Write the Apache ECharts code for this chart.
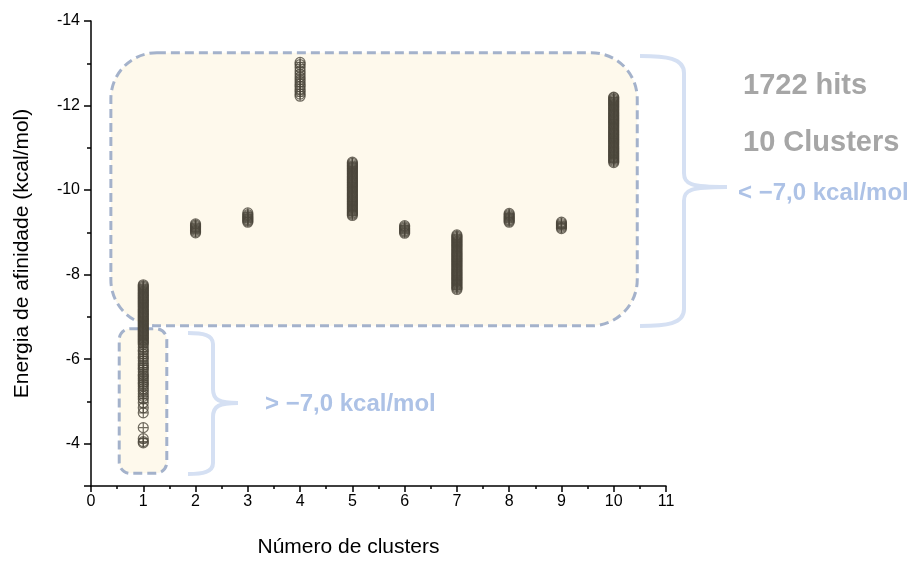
<!DOCTYPE html>
<html><head><meta charset="utf-8">
<script src="https://cdn.jsdelivr.net/npm/echarts@6/dist/echarts.min.js"></script>
<style>html,body{margin:0;padding:0;background:#fff}#c{width:911px;height:563px}</style>
</head><body><div id="c"></div>
<script>
// x-axis tick labels
const xTickLabels = ['0','1','2','3','4','5','6','7','8','9','10','11'];
// y-axis tick labels
const yTickLabels = ['-14','-12','-10','-8','-6','-4'];

// Energies (kcal/mol) read per cluster
const cluster1 = [-7.76,-7.73,-7.70,-7.67,-7.64,-7.61,-7.58,-7.55,-7.52,-7.49,-7.46,-7.43,-7.40,-7.37,-7.34,-7.31,-7.28,-7.25,-7.22,-7.19,-7.16,-7.13,-7.10,-7.07,-7.04,-7.01,-6.98,-6.95,-6.92,-6.89,-6.86,-6.83,-6.80,-6.77,-6.74,-6.71,-6.68,-6.65,-6.62,-6.59,-6.56,-6.53,-6.50,-6.47,-6.44,-6.41,-6.38,-6.35,
  -6.28,-6.22,-6.18,-6.12,-6.06,-6.02,-5.96,-5.90,-5.85,-5.80,-5.76,-5.70,-5.64,-5.60,-5.55,-5.50,-5.45,-5.41,-5.36,-5.30,-5.25,-5.18,-5.12,-5.06,-4.97,-4.85,-4.73,-4.38,-4.12,-4.05,-4.02];
const cluster2 = [-8.99,-9.02,-9.05,-9.08,-9.11,-9.14,-9.17,-9.20];
const cluster3 = [-9.24,-9.27,-9.30,-9.33,-9.36,-9.39,-9.42,-9.46];
const cluster4 = [-12.22,-12.27,-12.33,-12.38,-12.45,-12.5,-12.56,-12.62,-12.68,-12.75,-12.82,-12.9,-12.97,-13.02];
const cluster5 = [-9.40,-9.43,-9.46,-9.49,-9.52,-9.55,-9.58,-9.61,-9.64,-9.67,-9.70,-9.73,-9.76,-9.79,-9.82,-9.85,-9.88,-9.91,-9.94,-9.97,-10.00,-10.03,-10.06,-10.09,-10.12,-10.15,-10.18,-10.21,-10.24,-10.27,-10.30,-10.33,-10.36,-10.39,-10.42,-10.45,-10.48,-10.51,-10.54,-10.57,-10.60,-10.63,-10.66];
const cluster6 = [-8.98,-9.01,-9.04,-9.07,-9.10,-9.13,-9.16];
const cluster7 = [-7.65,-7.68,-7.71,-7.74,-7.77,-7.80,-7.83,-7.86,-7.89,-7.92,-7.95,-7.98,-8.01,-8.04,-8.07,-8.10,-8.13,-8.16,-8.19,-8.22,-8.25,-8.28,-8.31,-8.34,-8.37,-8.40,-8.43,-8.46,-8.49,-8.52,-8.55,-8.58,-8.61,-8.64,-8.67,-8.70,-8.73,-8.76,-8.79,-8.82,-8.85,-8.88,-8.91,-8.94];
const cluster8 = [-9.24,-9.27,-9.30,-9.33,-9.36,-9.39,-9.42,-9.45];
const cluster9 = [-9.09,-9.12,-9.15,-9.18,-9.21,-9.24];
const cluster10 = [-10.65,-10.68,-10.71,-10.74,-10.77,-10.80,-10.83,-10.86,-10.89,-10.92,-10.95,-10.98,-11.01,-11.04,-11.07,-11.10,-11.13,-11.16,-11.19,-11.22,-11.25,-11.28,-11.31,-11.34,-11.37,-11.40,-11.43,-11.46,-11.49,-11.52,-11.55,-11.58,-11.61,-11.64,-11.67,-11.70,-11.73,-11.76,-11.79,-11.82,-11.85,-11.88,-11.91,-11.94,-11.97,-12.00,-12.03,-12.06,-12.09,-12.12,-12.15,-12.18,-12.20];

const clusterIds = [1,2,3,4,5,6,7,8,9,10];
const clusters = [cluster1,cluster2,cluster3,cluster4,cluster5,cluster6,cluster7,cluster8,cluster9,cluster10];

const annHits = '1722 hits';
const annClusters = '10 Clusters';
const annBelow = '< \u22127,0 kcal/mol';
const annAbove = '> \u22127,0 kcal/mol';

const points = [];
clusters.forEach((vals, i) => vals.forEach(v => points.push([clusterIds[i], v])));

const FONT = '"Liberation Sans", Arial, sans-serif';
const chart = echarts.init(document.getElementById('c'));
chart.setOption({
  animation: false,
  backgroundColor: '#ffffff',
  grid: { left: 91, right: 245, top: 21, bottom: 72 },
  xAxis: {
    type: 'value', min: 0, max: 11, interval: 1,
    name: 'Número de clusters', nameLocation: 'middle', nameGap: 51,
    nameTextStyle: { color: '#000', fontSize: 21, fontFamily: FONT, padding: [0, 60, 0, 0] },
    axisLine: { show: true, onZero: false, lineStyle: { color: '#000', width: 1.5 } },
    axisTick: { show: true, length: 6, lineStyle: { color: '#000', width: 1.5 } },
    minorTick: { show: true, splitNumber: 2, length: 3, lineStyle: { color: '#000', width: 1.5 } },
    axisLabel: { color: '#000', fontSize: 16, fontFamily: FONT, margin: 8,
      formatter: v => xTickLabels[Math.round(v)] },
    splitLine: { show: false }
  },
  yAxis: {
    type: 'value', min: -14, max: -3, interval: 2, inverse: true,
    name: 'Energia de afinidade (kcal/mol)', nameLocation: 'middle', nameGap: 58,
    nameTextStyle: { color: '#000', fontSize: 21, fontFamily: FONT },
    axisLine: { show: true, onZero: false, lineStyle: { color: '#000', width: 1.5 } },
    axisTick: { show: true, length: 7, lineStyle: { color: '#000', width: 1.5 } },
    minorTick: { show: true, splitNumber: 2, length: 4, lineStyle: { color: '#000', width: 1.5 } },
    axisLabel: { color: '#000', fontSize: 16, fontFamily: FONT, margin: 11,
      formatter: v => { const s = String(v); return yTickLabels.indexOf(s) >= 0 ? s : ''; } },
    splitLine: { show: false }
  },
  series: [{
    type: 'scatter', z: 5,
    data: points,
    symbol: 'path://M10,0 A10,10 0 1,1 10,20 A10,10 0 1,1 10,0 Z M0,10 L20,10 M10,0 L10,20',
    symbolSize: 10,
    itemStyle: { color: 'rgba(0,0,0,0)', borderColor: '#4b463b', borderWidth: 1.2 }
  }]
});

function px(x, y) { return chart.convertToPixel({ gridIndex: 0 }, [x, y]); }
function boxFromData(x0, x1, y0, y1, r) {
  const a = px(x0, y0), b = px(x1, y1);
  return { type: 'rect', z: 1,
    shape: { x: Math.min(a[0], b[0]), y: Math.min(a[1], b[1]), width: Math.abs(b[0]-a[0]), height: Math.abs(b[1]-a[1]), r: r },
    style: { fill: '#fef9ec', stroke: '#a4b2cb', lineWidth: 3, lineDash: [9, 5] } };
}
const braceStyle = { fill: 'none', stroke: '#d5e0f3', lineWidth: 4 };
function bez(x1, y1, c1x, c1y, c2x, c2y, x2, y2) {
  return { type: 'bezierCurve', z: 1, shape: { x1: x1, y1: y1, cpx1: c1x, cpy1: c1y, cpx2: c2x, cpy2: c2y, x2: x2, y2: y2 }, style: braceStyle };
}
function seg(x1, y1, x2, y2) {
  return { type: 'line', z: 1, shape: { x1: x1, y1: y1, x2: x2, y2: y2 }, style: braceStyle };
}
function brace(xl, xv, xt, yTop, yMid, yBot, rr) {
  return [
    bez(xl, yTop, xl + (xv - xl) * 0.6, yTop, xv, yTop + 2, xv, yTop + rr),
    seg(xv, yTop + rr, xv, yMid - 14),
    bez(xv, yMid - 14, xv, yMid - 3, xv + 6, yMid, xt, yMid),
    bez(xt, yMid, xv + 6, yMid, xv, yMid + 3, xv, yMid + 14),
    seg(xv, yMid + 14, xv, yBot - rr),
    bez(xv, yBot - rr, xv, yBot - 2, xl + (xv - xl) * 0.6, yBot, xl, yBot)
  ];
}
const textStyle = (t, x, y, color, size) => ({ type: 'text', z: 3, style: { text: t, x: x, y: y, fill: color, fontSize: size, fontWeight: 'bold', fontFamily: FONT, align: 'left', verticalAlign: 'middle', textAlign: 'left', textVerticalAlign: 'middle' } });
chart.setOption({
  graphic: { elements: [
    boxFromData(0.38, 10.45, -13.25, -6.79, 46),
    boxFromData(0.54, 1.45, -6.72, -3.30, 11),
    ...brace(640, 684, 727, 56, 187, 326, 17),
    ...brace(188, 213, 238, 333, 403, 474, 11),
    textStyle(annHits, 743, 86, '#a6a6a6', 29),
    textStyle(annClusters, 743, 143, '#a6a6a6', 29),
    textStyle(annBelow, 738, 193, '#adc2e6', 24),
    textStyle(annAbove, 265, 404, '#adc2e6', 24)
  ] }
});
</script></body></html>
